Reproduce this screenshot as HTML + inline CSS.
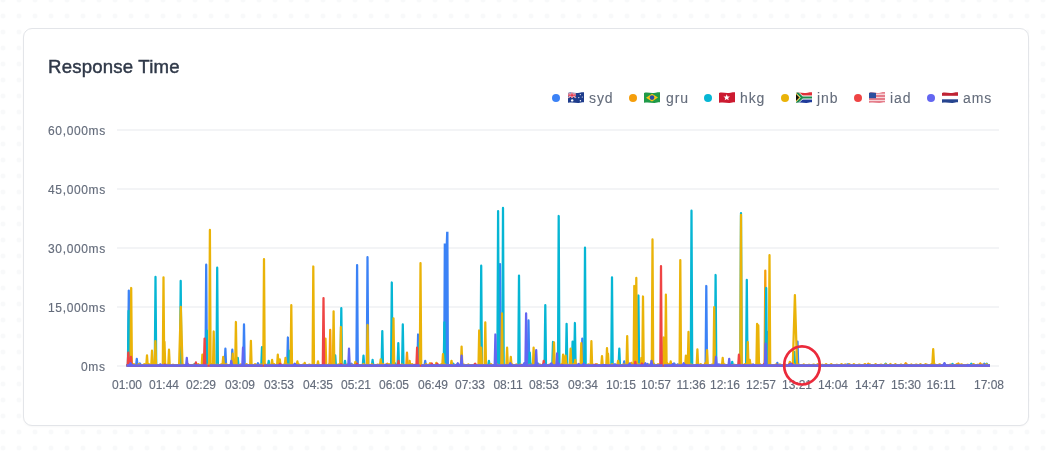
<!DOCTYPE html>
<html><head><meta charset="utf-8">
<style>
*{box-sizing:border-box;margin:0;padding:0}
html,body{width:1051px;height:455px;overflow:hidden;background:#fff}
.yl,.xl,.lg,.title{will-change:transform}
body{font-family:"Liberation Sans",sans-serif;position:relative;
background-image:radial-gradient(circle at 8px 8px,#f8f9fa 1.9px,rgba(255,255,255,0) 3px);
background-size:16px 16px;background-position:-5px -8px}
.card{position:absolute;left:23px;top:28px;width:1006px;height:398px;background:#fff;border:1px solid #e3e5e9;border-radius:9px;box-shadow:0 1px 2px rgba(0,0,0,0.03)}
.title{position:absolute;left:48px;top:56px;font-size:18.6px;color:#2f3848;-webkit-text-stroke:0.45px #2f3848;letter-spacing:0.2px;white-space:nowrap}
.lg{position:absolute;top:89px;font-size:14px;color:#646c7b;-webkit-text-stroke:0.1px #646c7b;white-space:nowrap;line-height:18px;letter-spacing:0.9px}
.dot{position:absolute;top:94px;width:8px;height:8px;border-radius:50%}
.yl{position:absolute;right:945.4px;font-size:12px;color:#646c7b;-webkit-text-stroke:0.15px #646c7b;white-space:nowrap;line-height:14px;letter-spacing:0.65px}
.xl{position:absolute;top:378px;font-size:12px;color:#646c7b;-webkit-text-stroke:0.15px #646c7b;white-space:nowrap;line-height:14px;width:60px;text-align:center}
svg{position:absolute;left:0;top:0}
svg.flag{position:absolute}
</style></head><body>
<div class="card"></div>
<svg width="0" height="0" style="position:absolute">
<defs>
<clipPath id="wave"><path d="M0,0.9 C4,0 7,1.6 10,0.9 S14,0 16,0.2 L16,10.2 C14,10 13,11 10,10.9 S4,10 0,10.8 Z"/></clipPath>
<symbol id="f-au" viewBox="0 0 16 11"><g clip-path="url(#wave)">
<rect width="16" height="11" fill="#1e3c8c"/>
<path d="M0,0.5 L8,5.8 M8,0.5 L0,5.8" stroke="#fff" stroke-width="1.3"/>
<path d="M0,0.5 L8,5.8 M8,0.5 L0,5.8" stroke="#d8283c" stroke-width="0.5"/>
<path d="M4,0 V6 M0,3.1 H8" stroke="#fff" stroke-width="1.8"/>
<path d="M4,0 V6 M0,3.1 H8" stroke="#e0253c" stroke-width="1.1"/>
<circle cx="4.2" cy="8.4" r="1.2" fill="#fff"/>
<circle cx="12.3" cy="2.6" r="0.6" fill="#fff"/><circle cx="14.3" cy="5" r="0.6" fill="#fff"/>
<circle cx="10.8" cy="5.6" r="0.6" fill="#fff"/><circle cx="12.4" cy="8.8" r="0.7" fill="#fff"/>
</g></symbol>
<symbol id="f-br" viewBox="0 0 16 11"><g clip-path="url(#wave)">
<rect width="16" height="11" fill="#1f9a48"/>
<path d="M2,5.7 L8,1.8 L14,5.5 L8,9.4 Z" fill="#f5c518"/>
<circle cx="8" cy="5.6" r="2.3" fill="#2b4ba6"/>
</g></symbol>
<symbol id="f-hk" viewBox="0 0 16 11"><g clip-path="url(#wave)">
<rect width="16" height="11" fill="#cc1a30"/>
<path d="M7.70,2.20 L8.58,4.39 L10.93,4.55 L9.13,6.06 L9.70,8.35 L7.70,7.10 L5.70,8.35 L6.27,6.06 L4.47,4.55 L6.82,4.39 Z" fill="#fff"/>
</g></symbol>
<symbol id="f-za" viewBox="0 0 16 11"><g clip-path="url(#wave)">
<rect width="16" height="11" fill="#fff"/>
<rect width="16" height="3.6" fill="#e0303a"/>
<rect y="7.4" width="16" height="3.6" fill="#1f3a9a"/>
<path d="M0,0 L5.5,5.5 L0,11 Z" fill="#f2b51c"/>
<path d="M0,0.8 L7,5.5 L0,10.2" fill="none" stroke="#fff" stroke-width="0"/>
<path d="M0,-0.5 L6.2,5.5 H16 M0,11.5 L6.2,5.5" fill="none" stroke="#fff" stroke-width="3.4"/>
<path d="M0,-0.5 L6.2,5.5 H16 M0,11.5 L6.2,5.5" fill="none" stroke="#1d8a4c" stroke-width="2.2"/>
<path d="M0,1.3 L4.2,5.5 L0,9.7 Z" fill="#f2b51c"/>
<path d="M0,2.3 L3.2,5.5 L0,8.7 Z" fill="#111"/>
</g></symbol>
<symbol id="f-us" viewBox="0 0 16 11"><g clip-path="url(#wave)">
<rect width="16" height="11" fill="#f6d6da"/>
<path d="M0,0.8H16M0,3.9H16M0,7H16M0,10.1H16" stroke="#e06070" stroke-width="1.5"/>
<rect width="7" height="6.2" fill="#2b4e9e"/>
</g></symbol>
<symbol id="f-nl" viewBox="0 0 16 11"><g clip-path="url(#wave)">
<rect width="16" height="11" fill="#fff"/>
<rect width="16" height="3.8" fill="#bf2333"/>
<rect y="7.3" width="16" height="3.7" fill="#26448f"/>
</g></symbol>
</defs></svg>

<div class="title">Response Time</div>

<div class="yl" style="top:124px">60,000ms</div>
<div class="yl" style="top:183px">45,000ms</div>
<div class="yl" style="top:242px">30,000ms</div>
<div class="yl" style="top:301px">15,000ms</div>
<div class="yl" style="top:360px">0ms</div>

<div class="dot" style="left:552px;background:#3b82f6"></div>
<svg class="flag" style="left:568px;top:92px" width="16" height="11" viewBox="0 0 16 11"><use href="#f-au"/></svg>
<div class="lg" style="left:589px">syd</div>
<div class="dot" style="left:629px;background:#f59e0b"></div>
<svg class="flag" style="left:644px;top:92px" width="16" height="11" viewBox="0 0 16 11"><use href="#f-br"/></svg>
<div class="lg" style="left:665.7px">gru</div>
<div class="dot" style="left:704.3px;background:#06b6d4"></div>
<svg class="flag" style="left:719px;top:92px" width="16" height="11" viewBox="0 0 16 11"><use href="#f-hk"/></svg>
<div class="lg" style="left:739.8px">hkg</div>
<div class="dot" style="left:781px;background:#eab308"></div>
<svg class="flag" style="left:796px;top:92px" width="16" height="11" viewBox="0 0 16 11"><use href="#f-za"/></svg>
<div class="lg" style="left:817px">jnb</div>
<div class="dot" style="left:854px;background:#ef4444"></div>
<svg class="flag" style="left:869px;top:92px" width="16" height="11" viewBox="0 0 16 11"><use href="#f-us"/></svg>
<div class="lg" style="left:890px">iad</div>
<div class="dot" style="left:927px;background:#6366f1"></div>
<svg class="flag" style="left:942px;top:92px" width="16" height="11" viewBox="0 0 16 11"><use href="#f-nl"/></svg>
<div class="lg" style="left:963.2px">ams</div>
<div class="xl" style="left:96.8px">01:00</div>
<div class="xl" style="left:133.6px">01:44</div>
<div class="xl" style="left:171.3px">02:29</div>
<div class="xl" style="left:210.3px">03:09</div>
<div class="xl" style="left:249.4px">03:53</div>
<div class="xl" style="left:288.4px">04:35</div>
<div class="xl" style="left:325.6px">05:21</div>
<div class="xl" style="left:364.0px">06:05</div>
<div class="xl" style="left:402.8px">06:49</div>
<div class="xl" style="left:440.0px">07:33</div>
<div class="xl" style="left:478.0px">08:11</div>
<div class="xl" style="left:514.0px">08:53</div>
<div class="xl" style="left:553.0px">09:34</div>
<div class="xl" style="left:590.6px">10:15</div>
<div class="xl" style="left:625.5px">10:57</div>
<div class="xl" style="left:661.0px">11:36</div>
<div class="xl" style="left:695.3px">12:16</div>
<div class="xl" style="left:730.8px">12:57</div>
<div class="xl" style="left:766.7px">13:21</div>
<div class="xl" style="left:802.9px">14:04</div>
<div class="xl" style="left:839.7px">14:47</div>
<div class="xl" style="left:876.2px">15:30</div>
<div class="xl" style="left:910.7px">16:11</div>
<div class="xl" style="left:958.7px">17:08</div>
<svg width="1051" height="455" viewBox="0 0 1051 455">
<g stroke="#eff1f3" stroke-width="1.7">
<line x1="117" y1="130" x2="999" y2="130"/>
<line x1="117" y1="189" x2="999" y2="189"/>
<line x1="117" y1="248" x2="999" y2="248"/>
<line x1="117" y1="307" x2="999" y2="307"/>
<line x1="117" y1="366" x2="999" y2="366"/>
</g>
<!--CHART--><g fill="none" stroke-width="2.25" stroke-linejoin="round" stroke-linecap="butt">
<path d="M126.5,365.6H990" stroke="#3b82f6" stroke-width="2"/>
<path d="M331.83,365.6L333.03,363.82L334.23,365.6M595.07,365.6L596.27,365.16L597.47,365.6M445.28,365.6L446.48,363.63L447.68,365.6M646.37,365.6L647.57,364L648.77,365.6M665.11,365.6L666.31,364.64L667.51,365.6M183.62,365.6L184.82,365.23L186.02,365.6M138.62,365.6L139.82,363.4L141.02,365.6M847.1,365.6L848.3,364.26L849.5,365.6M350.21,365.6L351.41,363.72L352.61,365.6M328.71,365.6L329.91,363.37L331.11,365.6M983.06,365.6L984.26,363.73L985.46,365.6M531.49,365.6L532.69,363.27L533.89,365.6M846.24,365.6L847.44,364.43L848.64,365.6M536.73,365.6L537.93,363.54L539.13,365.6M676.58,365.6L677.78,364.32L678.98,365.6M256.75,365.6L257.95,363.24L259.15,365.6M672.96,365.6L674.16,363.37L675.36,365.6M873.38,365.6L874.58,365.09L875.78,365.6M576.97,365.6L578.17,365L579.37,365.6M764.41,365.6L765.61,364.82L766.81,365.6M128.1,365.6L128.8,290.6L129.5,365.6M136.1,365.6L136.8,358.8L137.5,365.6M205.5,365.6L206.2,264.7L206.9,365.6M224.7,365.6L225.4,348.7L226.1,365.6M231.6,365.6L232.3,349.7L233,365.6M243.3,365.6L244,324.4L244.7,365.6M287.2,365.6L287.9,337.5L288.6,365.6M356.4,365.6L357.1,265.1L357.8,365.6M366.8,365.6L367.5,257.2L368.2,365.6M417.4,365.6L418.1,334.5L418.8,365.6M424.5,365.6L425.2,360.8L425.9,365.6M527.8,365.6L528.5,320.4L529.2,365.6M581.6,365.6L582.3,338.6L583,365.6M623.5,365.6L624.2,361.4L624.9,365.6M705.6,365.6L706.3,286L707,365.6M767.3,365.6L768,331.9L768.7,365.6M776.6,365.6L777.3,362.8L778,365.6M796.8,365.6L797.5,341.6L798.2,365.6M499.3,365.6L500,264.1L500.7,365.6" stroke="#3b82f6"/>
<path d="M443.1,365.6L443.7,243.4L445.7,243.4L446.1,231.8L448.5,231.8L449,365.6Z" fill="#3b82f6" stroke="none"/>
<path d="M126.5,365.3H990" stroke="#f59e0b" stroke-width="2"/>
<path d="M957.13,365.3L958.33,363.43L959.53,365.3M502.18,365.3L503.38,364.54L504.58,365.3M665.9,365.3L667.1,363.17L668.3,365.3M386.03,365.3L387.23,363.74L388.43,365.3M563.28,365.3L564.48,364.37L565.68,365.3M458.95,365.3L460.15,364.86L461.35,365.3M428.91,365.3L430.11,363.12L431.31,365.3M630.17,365.3L631.37,362.82L632.57,365.3M629.46,365.3L630.66,364.81L631.86,365.3M904.46,365.3L905.66,363.24L906.86,365.3M713.46,365.3L714.66,364.1L715.86,365.3M925.73,365.3L926.93,364.67L928.13,365.3M863.38,365.3L864.58,364.35L865.78,365.3M979.06,365.3L980.26,363.31L981.46,365.3M704.26,365.3L705.46,363.08L706.66,365.3M267.48,365.3L268.68,364.9L269.88,365.3M867.02,365.3L868.22,363.65L869.42,365.3M956.4,365.3L957.6,364.9L958.8,365.3M904.89,365.3L906.09,363.42L907.29,365.3M616.45,365.3L617.65,364.27L618.85,365.3M764.6,365.3L765.3,270.6L766,365.3M329.5,365.3L330.2,329.9L330.9,365.3M406.3,365.3L407,352.7L407.7,365.3" stroke="#f59e0b"/>
<path d="M126.5,365.4H990" stroke="#06b6d4" stroke-width="2"/>
<path d="M884.44,365.4L885.64,363.68L886.84,365.4M970.16,365.4L971.36,363.79L972.56,365.4M561.71,365.4L562.91,363.87L564.11,365.4M985.52,365.4L986.72,363.74L987.92,365.4M393.46,365.4L394.66,363.03L395.86,365.4M193.46,365.4L194.66,363.98L195.86,365.4M642.8,365.4L644,364.15L645.2,365.4M154.27,365.4L155.47,363.52L156.67,365.4M296.95,365.4L298.15,364.58L299.35,365.4M477.92,365.4L479.12,364.44L480.32,365.4M652,365.4L653.2,362.95L654.4,365.4M261.55,365.4L262.75,363.95L263.95,365.4M163.77,365.4L164.97,363.89L166.17,365.4M873.16,365.4L874.36,365.07L875.56,365.4M397.04,365.4L398.24,364.19L399.44,365.4M951.27,365.4L952.47,363.82L953.67,365.4M897.98,365.4L899.18,365.06L900.38,365.4M452.01,365.4L453.21,363.75L454.41,365.4M523.02,365.4L524.22,363.71L525.42,365.4M574.3,365.4L575.5,364.97L576.7,365.4M127.9,365.4L128.6,310.9L129.3,365.4M154.8,365.4L155.5,276.9L156.2,365.4M180,365.4L180.7,280.9L181.4,365.4M206.1,365.4L206.8,330.5L207.5,365.4M216.5,365.4L217.2,267.7L217.9,365.4M237.1,365.4L237.8,357.8L238.5,365.4M261.3,365.4L262,347.1L262.7,365.4M268,365.4L268.7,360.8L269.4,365.4M288.2,365.4L288.9,350.7L289.6,365.4M334.5,365.4L335.2,355.3L335.9,365.4M340.6,365.4L341.3,308.2L342,365.4M344.3,365.4L345,360.8L345.7,365.4M362.8,365.4L363.5,355.7L364.2,365.4M371.9,365.4L372.6,359.8L373.3,365.4M381.6,365.4L382.3,331.1L383,365.4M391.1,365.4L391.8,282.5L392.5,365.4M397.6,365.4L398.3,343.2L399,365.4M402.1,365.4L402.8,324.4L403.5,365.4M418.4,365.4L419.1,343.2L419.8,365.4M443.7,365.4L444.4,322.4L445.1,365.4M480.5,365.4L481.2,265.7L481.9,365.4M488.2,365.4L488.9,360.8L489.6,365.4M497.4,365.4L498.1,211.1L498.8,365.4M502.3,365.4L503,207.9L503.7,365.4M518.3,365.4L519,275.6L519.7,365.4M529.1,365.4L529.8,352.7L530.5,365.4M544.6,365.4L545.3,305.2L546,365.4M552.3,365.4L553,342L553.7,365.4M558,365.4L558.7,216L559.4,365.4M565.9,365.4L566.6,323.8L567.3,365.4M571.9,365.4L572.6,341.6L573.3,365.4M574.2,365.4L574.9,323L575.6,365.4M584.3,365.4L585,247.7L585.7,365.4M611.3,365.4L612,277.3L612.7,365.4M618.6,365.4L619.3,348.7L620,365.4M637.7,365.4L638.4,295.5L639.1,365.4M690.8,365.4L691.5,210.7L692.2,365.4M714.9,365.4L715.6,275L716.3,365.4M731.5,365.4L732.2,361.8L732.9,365.4M740.3,365.4L741,213.1L741.7,365.4M746.1,365.4L746.8,279.9L747.5,365.4M765.5,365.4L766.2,288L766.9,365.4M793.6,365.4L794.3,351.9L795,365.4" stroke="#06b6d4"/>
<path d="M126.5,365.1H990" stroke="#eab308" stroke-width="2"/>
<path d="M127.3,365.1L128.5,364.27L129.7,365.1M132.68,365.1L133.88,364.09L135.08,365.1M137.58,365.1L138.78,364.17L139.98,365.1M143.12,365.1L144.32,364.27L145.52,365.1M147.68,365.1L148.88,364.21L150.08,365.1M153.3,365.1L154.5,364.35L155.7,365.1M159.01,365.1L160.21,364.72L161.41,365.1M162.58,365.1L163.78,364.33L164.98,365.1M166.26,365.1L167.46,364.8L168.66,365.1M171.79,365.1L172.99,364.69L174.19,365.1M178.18,365.1L179.38,364.18L180.58,365.1M182.43,365.1L183.63,364.76L184.83,365.1M187.3,365.1L188.5,364.73L189.7,365.1M192.58,365.1L193.78,364.72L194.98,365.1M197.04,365.1L198.24,364.1L199.44,365.1M201.63,365.1L202.83,364.66L204.03,365.1M206.07,365.1L207.27,364.78L208.47,365.1M210.68,365.1L211.88,364.13L213.08,365.1M215.96,365.1L217.16,364.7L218.36,365.1M220.36,365.1L221.56,364.12L222.76,365.1M224.99,365.1L226.19,364.26L227.39,365.1M230.81,365.1L232.01,364.13L233.21,365.1M234.39,365.1L235.59,364.04L236.79,365.1M239.6,365.1L240.8,364.34L242,365.1M245.31,365.1L246.51,364.16L247.71,365.1M249.74,365.1L250.94,364.77L252.14,365.1M253.9,365.1L255.1,364.19L256.3,365.1M259.81,365.1L261.01,364.39L262.21,365.1M264.03,365.1L265.23,364.23L266.43,365.1M268.09,365.1L269.29,364.71L270.49,365.1M272.9,365.1L274.1,364.2L275.3,365.1M278.49,365.1L279.69,364.05L280.89,365.1M282.3,365.1L283.5,364.75L284.7,365.1M286.76,365.1L287.96,364.54L289.16,365.1M291.27,365.1L292.47,364.35L293.67,365.1M297.27,365.1L298.47,364.14L299.67,365.1M302.08,365.1L303.28,364.61L304.48,365.1M308.15,365.1L309.35,364.66L310.55,365.1M312.16,365.1L313.36,364.6L314.56,365.1M316.67,365.1L317.87,364.31L319.07,365.1M322.12,365.1L323.32,364.2L324.52,365.1M328.27,365.1L329.47,364.49L330.67,365.1M333.12,365.1L334.32,364.51L335.52,365.1M337.3,365.1L338.5,364.48L339.7,365.1M341.16,365.1L342.36,364.52L343.56,365.1M346.25,365.1L347.45,364.47L348.65,365.1M350.32,365.1L351.52,364.73L352.72,365.1M356.24,365.1L357.44,364.4L358.64,365.1M362.26,365.1L363.46,364.02L364.66,365.1M366.31,365.1L367.51,364.47L368.71,365.1M370.65,365.1L371.85,364.2L373.05,365.1M376.57,365.1L377.77,364.67L378.97,365.1M381.99,365.1L383.19,364.25L384.39,365.1M387.91,365.1L389.11,364.2L390.31,365.1M392.45,365.1L393.65,364.26L394.85,365.1M396.34,365.1L397.54,364.39L398.74,365.1M400.71,365.1L401.91,364.41L403.11,365.1M406.59,365.1L407.79,364.29L408.99,365.1M410.91,365.1L412.11,364.08L413.31,365.1M415.45,365.1L416.65,364.68L417.85,365.1M420.2,365.1L421.4,364.72L422.6,365.1M424.96,365.1L426.16,364.2L427.36,365.1M429.69,365.1L430.89,364.07L432.09,365.1M435.95,365.1L437.15,364.39L438.35,365.1M439.92,365.1L441.12,364.45L442.32,365.1M443.43,365.1L444.63,364.22L445.83,365.1M449.76,365.1L450.96,364.65L452.16,365.1M455.9,365.1L457.1,364.59L458.3,365.1M462.36,365.1L463.56,364.64L464.76,365.1M467.16,365.1L468.36,364.33L469.56,365.1M473.51,365.1L474.71,364.55L475.91,365.1M479.8,365.1L481,364.61L482.2,365.1M483.96,365.1L485.16,364.25L486.36,365.1M489.7,365.1L490.9,364.04L492.1,365.1M495.71,365.1L496.91,364.56L498.11,365.1M501.2,365.1L502.4,364.24L503.6,365.1M506.25,365.1L507.45,364.47L508.65,365.1M510.62,365.1L511.82,364.12L513.02,365.1M515.15,365.1L516.35,364.33L517.55,365.1M519.33,365.1L520.53,364.59L521.73,365.1M523.03,365.1L524.23,364.63L525.43,365.1M528.3,365.1L529.5,364.78L530.7,365.1M532.66,365.1L533.86,364.42L535.06,365.1M538.59,365.1L539.79,364.49L540.99,365.1M542.22,365.1L543.42,364.66L544.62,365.1M548.44,365.1L549.64,364.51L550.84,365.1M554.02,365.1L555.22,364.54L556.42,365.1M560.29,365.1L561.49,364.18L562.69,365.1M566.48,365.1L567.68,364.69L568.88,365.1M572.68,365.1L573.88,364.01L575.08,365.1M577.91,365.1L579.11,364.42L580.31,365.1M581.45,365.1L582.65,364.32L583.85,365.1M587.18,365.1L588.38,364.43L589.58,365.1M591.2,365.1L592.4,364.13L593.6,365.1M595.6,365.1L596.8,364.14L598,365.1M601.09,365.1L602.29,364.35L603.49,365.1M606.16,365.1L607.36,364.41L608.56,365.1M610.9,365.1L612.1,364.22L613.3,365.1M617.22,365.1L618.42,364.11L619.62,365.1M622.56,365.1L623.76,364.48L624.96,365.1M627.08,365.1L628.28,364.21L629.48,365.1M631.34,365.1L632.54,364.03L633.74,365.1M637.42,365.1L638.62,364.43L639.82,365.1M642.35,365.1L643.55,364.62L644.75,365.1M648.2,365.1L649.4,364.61L650.6,365.1M652.76,365.1L653.96,364.23L655.16,365.1M656.85,365.1L658.05,364.26L659.25,365.1M661.95,365.1L663.15,364.03L664.35,365.1M667.9,365.1L669.1,364.12L670.3,365.1M671.92,365.1L673.12,364.61L674.32,365.1M677.79,365.1L678.99,364.65L680.19,365.1M684.06,365.1L685.26,364.59L686.46,365.1M689.98,365.1L691.18,364.65L692.38,365.1M695.95,365.1L697.15,364.24L698.35,365.1M699.47,365.1L700.67,364.11L701.87,365.1M704.85,365.1L706.05,364.08L707.25,365.1M710.94,365.1L712.14,364.6L713.34,365.1M714.59,365.1L715.79,364.11L716.99,365.1M718.91,365.1L720.11,364.55L721.31,365.1M723.21,365.1L724.41,364.46L725.61,365.1M728.29,365.1L729.49,364.22L730.69,365.1M733.06,365.1L734.26,364.73L735.46,365.1M737.98,365.1L739.18,364.73L740.38,365.1M743.81,365.1L745.01,364.13L746.21,365.1M747.32,365.1L748.52,364.57L749.72,365.1M750.98,365.1L752.18,364.51L753.38,365.1M754.86,365.1L756.06,364.34L757.26,365.1M758.74,365.1L759.94,364.26L761.14,365.1M762.44,365.1L763.64,364.79L764.84,365.1M768.86,365.1L770.06,364.53L771.26,365.1M774.93,365.1L776.13,364.45L777.33,365.1M778.69,365.1L779.89,364.41L781.09,365.1M783.69,365.1L784.89,364.63L786.09,365.1M788.14,365.1L789.34,364.33L790.54,365.1M792.58,365.1L793.78,364.04L794.98,365.1M797.14,365.1L798.34,364.49L799.54,365.1M802.58,365.1L803.78,364.36L804.98,365.1M807.84,365.1L809.04,364.7L810.24,365.1M812.42,365.1L813.62,364.58L814.82,365.1M816.49,365.1L817.69,364.27L818.89,365.1M820.98,365.1L822.18,364.71L823.38,365.1M824.85,365.1L826.05,364.09L827.25,365.1M830.02,365.1L831.22,364.07L832.42,365.1M835.67,365.1L836.87,364.72L838.07,365.1M840.31,365.1L841.51,364.05L842.71,365.1M844.05,365.1L845.25,364.5L846.45,365.1M848.08,365.1L849.28,364.18L850.48,365.1M852.7,365.1L853.9,364.19L855.1,365.1M858.02,365.1L859.22,364.56L860.42,365.1M863.86,365.1L865.06,364.26L866.26,365.1M868.5,365.1L869.7,364.28L870.9,365.1M874.41,365.1L875.61,364.16L876.81,365.1M879.78,365.1L880.98,364.59L882.18,365.1M884.57,365.1L885.77,364.2L886.97,365.1M889.19,365.1L890.39,364.03L891.59,365.1M894.18,365.1L895.38,364.26L896.58,365.1M899.79,365.1L900.99,364.37L902.19,365.1M904.55,365.1L905.75,364.71L906.95,365.1M910.13,365.1L911.33,364.4L912.53,365.1M915.01,365.1L916.21,364.52L917.41,365.1M919.25,365.1L920.45,364.23L921.65,365.1M924.36,365.1L925.56,364.26L926.76,365.1M929.94,365.1L931.14,364.35L932.34,365.1M933.66,365.1L934.86,364.65L936.06,365.1M938.43,365.1L939.63,364.28L940.83,365.1M943.21,365.1L944.41,364.3L945.61,365.1M949.35,365.1L950.55,364.66L951.75,365.1M955.66,365.1L956.86,364.09L958.06,365.1M960.28,365.1L961.48,364.28L962.68,365.1M966.47,365.1L967.67,364.7L968.87,365.1M972.35,365.1L973.55,364.05L974.75,365.1M976.63,365.1L977.83,364.69L979.03,365.1M981.52,365.1L982.72,364.53L983.92,365.1M985.39,365.1L986.59,364.22L987.79,365.1M130.5,365.1L131.2,288L131.9,365.1M146.3,365.1L147,355.3L147.7,365.1M151.3,365.1L152,350.7L152.7,365.1M154.7,365.1L155.4,341.2L156.1,365.1M162.8,365.1L163.5,277.3L164.2,365.1M163.8,365.1L164.5,341.9L165.2,365.1M168.3,365.1L169,349.7L169.7,365.1M179.1,365.1L180.8,306.8L182.5,365.1M201.7,365.1L202.4,354.7L203.1,365.1M209.2,365.1L209.9,229.9L210.6,365.1M213,365.1L213.7,331.5L214.4,365.1M222.5,365.1L223.2,356.8L223.9,365.1M232,365.1L232.7,353.7L233.4,365.1M235.2,365.1L235.9,322L236.6,365.1M250.2,365.1L250.9,340.9L251.6,365.1M263.3,365.1L264,259.1L264.7,365.1M271.4,365.1L272.1,359.8L272.8,365.1M277.1,365.1L277.8,354.7L278.5,365.1M279.1,365.1L279.8,359.4L280.5,365.1M284.8,365.1L285.5,357.8L286.2,365.1M290.6,365.1L291.3,305.2L292,365.1M296.7,365.1L297.4,361.4L298.1,365.1M304,365.1L304.7,362.8L305.4,365.1M312.6,365.1L313.3,266.5L314,365.1M317.3,365.1L318,361.4L318.7,365.1M324.8,365.1L325.5,338.6L326.2,365.1M332.9,365.1L333.6,311.3L334.3,365.1M340.2,365.1L340.9,327L341.6,365.1M354.7,365.1L355.4,361.8L356.1,365.1M366.9,365.1L367.6,325L368.3,365.1M380,365.1L380.7,359.4L381.4,365.1M392.8,365.1L393.5,318.3L394.2,365.1M408.9,365.1L409.6,360.8L410.3,365.1M419.8,365.1L420.5,263.1L421.2,365.1M435.6,365.1L436.3,362.8L437,365.1M442.3,365.1L443,354.1L443.7,365.1M450.8,365.1L451.5,360.8L452.2,365.1M460.9,365.1L461.6,346.6L462.3,365.1M478.5,365.1L479.2,330.5L479.9,365.1M480.5,365.1L481.2,347.7L481.9,365.1M484.6,365.1L485.3,322.4L486,365.1M501.3,365.1L502,313.3L502.7,365.1M506.4,365.1L507.1,347.7L507.8,365.1M510.1,365.1L510.8,356.8L511.5,365.1M532.9,365.1L533.6,347.7L534.3,365.1M553.3,365.1L554,342.4L554.7,365.1M562.4,365.1L563.1,354.7L563.8,365.1M564.9,365.1L565.6,355.7L566.3,365.1M569.9,365.1L570.6,348.7L571.3,365.1M574.6,365.1L575.3,359.8L576,365.1M580.6,365.1L581.3,343.2L582,365.1M590.7,365.1L591.4,341.2L592.1,365.1M601.3,365.1L602,356.1L602.7,365.1M606.3,365.1L607,348.1L607.7,365.1M607.3,365.1L608,353.7L608.7,365.1M617.4,365.1L618.1,360.8L618.8,365.1M626.5,365.1L627.2,336.1L627.9,365.1M633.6,365.1L634.3,286L635,365.1M635.6,365.1L636.3,277.9L637,365.1M640.7,365.1L641.4,357.8L642.1,365.1M642.3,365.1L643,296.5L643.7,365.1M651.8,365.1L652.5,239.4L653.2,365.1M662.9,365.1L663.6,337.5L664.3,365.1M665.2,365.1L665.9,294.7L666.6,365.1M670,365.1L670.7,361.4L671.4,365.1M679.6,365.1L680.3,260.1L681,365.1M685.2,365.1L685.9,355.7L686.6,365.1M687.8,365.1L688.5,331.9L689.2,365.1M696.7,365.1L697.4,349.3L698.1,365.1M706.4,365.1L707.1,350.1L707.8,365.1M713.5,365.1L714.2,307.2L714.9,365.1M722,365.1L722.7,357.8L723.4,365.1M740.3,365.1L741,214.9L741.7,365.1M747.1,365.1L747.8,342L748.5,365.1M749.1,365.1L749.8,359.8L750.5,365.1M756.4,365.1L757.1,323.8L757.8,365.1M757.6,365.1L758.3,325.4L759,365.1M768.8,365.1L769.5,255.2L770.2,365.1M789.1,365.1L789.8,361.8L790.5,365.1M792.8,365.1L794.9,295.1L797,365.1M932.3,365.1L933.2,349.1L934.1,365.1" stroke="#eab308"/>
<path d="M126.5,365.7H990" stroke="#ef4444" stroke-width="2"/>
<path d="M640.79,365.7L641.99,363.54L643.19,365.7M604.26,365.7L605.46,365.15L606.66,365.7M683.81,365.7L685.01,364.8L686.21,365.7M520.7,365.7L521.9,365.18L523.1,365.7M395.84,365.7L397.04,365.15L398.24,365.7M278.9,365.7L280.1,363.69L281.3,365.7M186.26,365.7L187.46,363.8L188.66,365.7M742.56,365.7L743.76,364.99L744.96,365.7M775.78,365.7L776.98,364.98L778.18,365.7M594.12,365.7L595.32,364.48L596.52,365.7M763.02,365.7L764.22,363.76L765.42,365.7M436.05,365.7L437.25,363.61L438.45,365.7M355.79,365.7L356.99,363.75L358.19,365.7M456.81,365.7L458.01,364.1L459.21,365.7M877.25,365.7L878.45,365.08L879.65,365.7M163.49,365.7L164.69,364.52L165.89,365.7M561.1,365.7L562.3,364.97L563.5,365.7M339.77,365.7L340.97,364.24L342.17,365.7M788.17,365.7L789.37,364.15L790.57,365.7M431.66,365.7L432.86,364.96L434.06,365.7M413.4,365.7L414.6,364.85L415.8,365.7M473.97,365.7L475.17,363.68L476.37,365.7M592.72,365.7L593.92,365.33L595.12,365.7M790.59,365.7L791.79,363.63L792.99,365.7M430.6,365.7L431.8,363.44L433,365.7M127.6,365.7L128.3,352.7L129,365.7M130.3,365.7L131,356.9L131.7,365.7M195.2,365.7L195.9,362.4L196.6,365.7M203.9,365.7L204.6,338.6L205.3,365.7M322.8,365.7L323.5,298.1L324.2,365.7M397.8,365.7L398.5,360.8L399.2,365.7M416.4,365.7L417.1,347.7L417.8,365.7M543,365.7L543.7,360.8L544.4,365.7M634.6,365.7L635.3,361.8L636,365.7M660.3,365.7L661,266.1L661.7,365.7M738.2,365.7L738.9,354.7L739.6,365.7" stroke="#ef4444"/>
<path d="M126.5,365.5H207.6M209.6,365.5H262.7M264,365.5H419.8M421.2,365.5H662.6M663.8,365.5H990" stroke="#6366f1" stroke-width="2.6"/>
<path d="M943.24,365.5L944.44,363.09L945.64,365.5M456.61,365.5L457.81,363.24L459.01,365.5M602.27,365.5L603.47,364.9L604.67,365.5M628.44,365.5L629.64,363.46L630.84,365.5M671.92,365.5L673.12,363.83L674.32,365.5M967.01,365.5L968.21,365.09L969.41,365.5M717.46,365.5L718.66,364.41L719.86,365.5M384.64,365.5L385.84,364.69L387.04,365.5M866.48,365.5L867.68,365.03L868.88,365.5M543.36,365.5L544.56,364.01L545.76,365.5M644.17,365.5L645.37,363.15L646.57,365.5M752.01,365.5L753.21,364.49L754.41,365.5M129.34,365.5L130.54,363.28L131.74,365.5M789.51,365.5L790.71,363.67L791.91,365.5M696.24,365.5L697.44,364.9L698.64,365.5M550.06,365.5L551.26,363.31L552.46,365.5M577.37,365.5L578.57,363.88L579.77,365.5M523.13,365.5L524.33,363.16L525.53,365.5M293.56,365.5L294.76,363.62L295.96,365.5M582.45,365.5L583.65,363.57L584.85,365.5M159.16,365.5L160.36,364.44L161.56,365.5M557.43,365.5L558.63,363.43L559.83,365.5M682.5,365.5L683.7,363.15L684.9,365.5M509.11,365.5L510.31,363.3L511.51,365.5M613.78,365.5L614.98,364.24L616.18,365.5M186.1,365.5L186.8,357.8L187.5,365.5M230.6,365.5L231.3,360.8L232,365.5M242.3,365.5L243,347.7L243.7,365.5M348.3,365.5L349,348.7L349.7,365.5M460.9,365.5L461.6,355.7L462.3,365.5M494.7,365.5L495.4,334.5L496.1,365.5M525.4,365.5L526.1,313.3L526.8,365.5M535.5,365.5L536.2,350.1L536.9,365.5M556.4,365.5L557.1,353.3L557.8,365.5M650.8,365.5L651.5,360.8L652.2,365.5M715.3,365.5L716,356.8L716.7,365.5M728.5,365.5L729.2,358.8L729.9,365.5M764.9,365.5L765.6,343.6L766.3,365.5" stroke="#6366f1"/>
</g><!--/CHART-->
<ellipse cx="802" cy="365.4" rx="17.8" ry="19.1" fill="none" stroke="#eb2a3b" stroke-width="2.7"/>
</svg>
</body></html>
